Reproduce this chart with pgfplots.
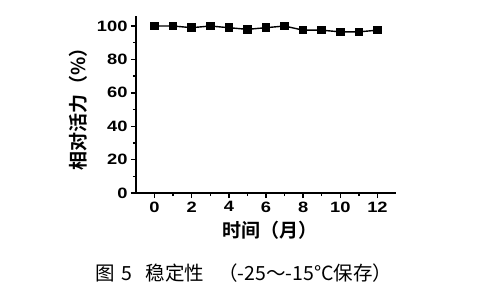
\documentclass[border=0pt]{standalone}
\usepackage{fontspec}
\setmainfont{Liberation Sans}
\newfontfamily\tickfont[FakeStretch=1.22]{Liberation Sans}
\newfontfamily\cjk{Noto Sans CJK SC}
\newfontfamily\cjkb{Noto Sans CJK SC Bold}
\usepackage{pgfplots}
\pgfplotsset{compat=1.18}
\begin{document}
\begin{tikzpicture}[x=1pt,y=1pt]
\path[use as bounding box] (0,0) rectangle (501,295);
\begin{axis}[
  at={(136pt,102pt)}, anchor=south west,
  scale only axis, width=260pt, height=177pt,
  xmin=-1, xmax=13, ymin=0, ymax=106,
  axis x line*=bottom, axis y line*=left,
  axis line style={line width=1.6pt},
  xtick={0,2,...,12}, minor xtick={1,3,...,11},
  ytick={0,20,...,100}, minor ytick={10,30,...,90},
  tick align=outside,
  major tick length=5pt, minor tick length=3pt,
  every tick/.style={line width=1.4pt, black},
  /pgf/number format/assume math mode=true,
  tick label style={font=\tickfont\fontsize{15}{17}\selectfont\bfseries},
  xlabel={\cjkb 时间（月）},
  ylabel={\cjkb 相对活力（\%）},
  label style={font=\fontsize{19}{21}\selectfont},
  xlabel style={at={(axis description cs:0.515,-0.21)}, anchor=center},
  ylabel style={at={(axis description cs:-0.223,0.5)}, anchor=center},
  clip=false,
]
\addplot[black, line width=1.4pt, mark=square*, mark size=3.6pt] coordinates {
(0,100) (1,100) (2,99) (3,100) (4,99) (5,98) (6,99) (7,100) (8,97.5) (9,97.5) (10,96.5) (11,96.5) (12,97.5)
};
\end{axis}
\node[font=\cjk\fontsize{19.5}{21}\selectfont, anchor=west] at (92,22) {图\hspace{6pt}5\hspace{14pt}稳定性\hspace{14pt}（-25～-15°C保存）};
\end{tikzpicture}
\end{document}
